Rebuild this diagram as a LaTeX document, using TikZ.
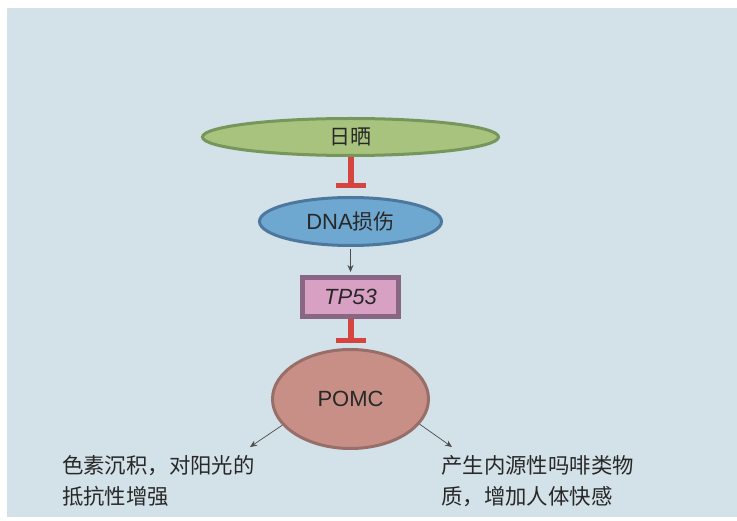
\documentclass[tikz,border=0pt]{standalone}
\usepackage{fontspec}
\setmainfont{Noto Sans CJK SC}
\newfontfamily\latinfont{Liberation Sans}
\usepackage{tikz}
\usetikzlibrary{shapes.geometric}
\usetikzlibrary{positioning}
\usetikzlibrary{arrows.meta}
\usetikzlibrary{math}

\definecolor{bgblue}{RGB}{211,225,232}
\definecolor{sunfill}{RGB}{168,195,126}
\definecolor{sunedge}{RGB}{118,150,92}
\definecolor{dnafill}{RGB}{110,167,208}
\definecolor{dnaedge}{RGB}{76,120,158}
\definecolor{tpfill}{RGB}{216,160,195}
\definecolor{tpedge}{RGB}{138,102,133}
\definecolor{pomcfill}{RGB}{200,143,135}
\definecolor{pomcedge}{RGB}{152,110,105}
\definecolor{inhred}{RGB}{214,68,64}
\definecolor{txt}{RGB}{40,40,40}

\tikzset{
  blob/.style={ellipse, inner sep=0pt, line width=3pt, text=txt,
    font=\fontsize{21}{24}\selectfont},
  inhibit/.style={draw=inhred, line width=6pt,
    -{Bar[width=30pt, line width=5pt]}},
  flow/.style={draw=black!70, line width=0.7pt, -{Stealth[length=7pt, width=6pt]}},
  effect/.style={text=txt, align=left, inner sep=0pt, anchor=west,
    font=\fontsize{21.4}{31}\selectfont}
}

\begin{document}
\begin{tikzpicture}[x=1pt,y=-1pt]
      \tikzmath{
        \w = 737;
        \h = 521;
        \cx = 350.5;
      }

      \useasboundingbox (0,0) rectangle (\w,\h);
      \fill[bgblue] (7,8) rectangle (\w,517);

      % the chain
      \node[blob, draw=sunedge, fill=sunfill, minimum width=296pt, minimum height=37pt]
        (sun) at (\cx,137) {日晒};
      \node[blob, draw=dnaedge, fill=dnafill, minimum width=182pt, minimum height=48pt]
        (dna) at (\cx,221.5) {{\latinfont\fontsize{22}{24}\selectfont DNA}损伤};
      \node[draw=tpedge, fill=tpfill, line width=5pt, minimum width=96pt, minimum height=39pt,
        inner sep=0pt, text=txt, font=\latinfont\fontsize{22}{24}\selectfont]
        (tp) at (\cx,297) {\itshape TP53};
      \node[blob, draw=pomcedge, fill=pomcfill, minimum width=156pt, minimum height=99pt,
        font=\latinfont\fontsize{22}{24}\selectfont]
        (pomc) at (\cx,399) {POMC};

      \draw[inhibit, shorten >=8pt] (sun) -- (dna);
      \draw[flow, shorten <=2pt, shorten >=3pt] (dna) -- (tp);
      \draw[inhibit, shorten >=5pt] (tp) -- (pomc);

      % the two effects
      \node[effect] (pigment) at (62,481) {色素沉积，对阳光的\\抵抗性增强};
      \node[effect] (pleasure) at (441,481) {产生内源性吗啡类物\\质，增加人体快感};

      \coordinate (lend) at (250,447);
      \coordinate (rend) at (452,447);
      \draw[flow] (pomc.201) -- (lend);
      \draw[flow] (pomc.340) -- (rend);
\end{tikzpicture}
\end{document}
